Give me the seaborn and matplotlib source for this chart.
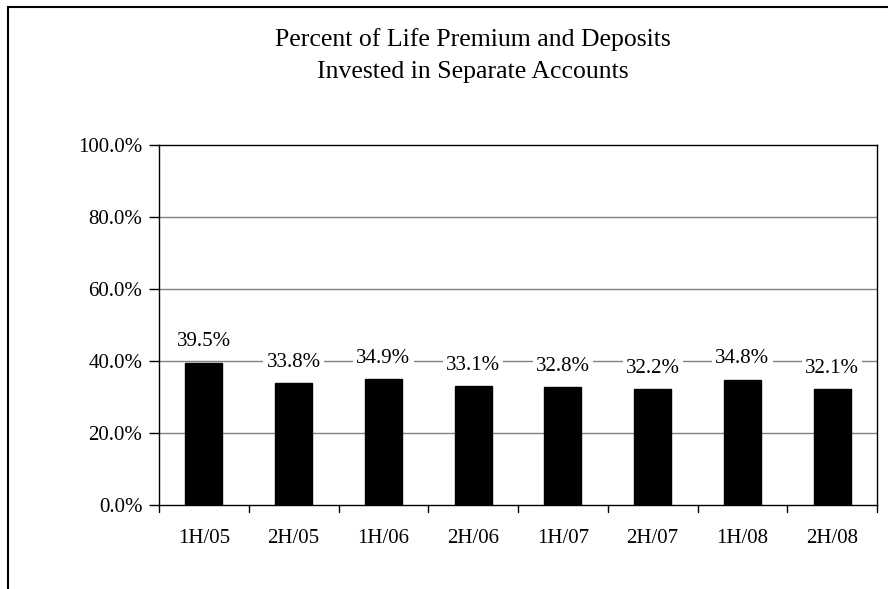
import matplotlib
matplotlib.use("Agg")
import matplotlib.pyplot as plt
import seaborn as sns
import pandas as pd
from matplotlib.patches import Rectangle

periods = ["1H/05", "2H/05", "1H/06", "2H/06", "1H/07", "2H/07", "1H/08", "2H/08"]
values = [39.5, 33.8, 34.9, 33.1, 32.8, 32.2, 34.8, 32.1]
yticks = [0, 20, 40, 60, 80, 100]

sns.set_theme(style="white")
plt.rcParams['font.family'] = ['Liberation Serif', 'DejaVu Serif']
plt.rcParams['text.color'] = 'black'
plt.rcParams['xtick.color'] = 'black'
plt.rcParams['ytick.color'] = 'black'
plt.rcParams['axes.labelcolor'] = 'black'

df = pd.DataFrame({"period": periods, "value": values})

fig = plt.figure(figsize=(8.88, 5.89), dpi=100)
ax = fig.add_axes([159/888, 1-505/589, (877-159)/888, (505-145)/589])

sns.barplot(data=df, x="period", y="value", color="black", width=0.41,
            saturation=1, ax=ax, zorder=3, edgecolor="black")

ax.set_ylim(0, 100)
ax.set_xlim(-0.5, len(periods) - 0.5)
ax.set_yticks(yticks)
ax.set_yticklabels([f"{v:.1f}%" for v in yticks], fontsize=15)
ax.set_xticks(range(len(periods)))
ax.set_xticklabels(periods, fontsize=15)
ax.set_xlabel("")
ax.set_ylabel("")

# grid lines
for v in yticks[1:-1]:
    ax.axhline(v, color="#808080", lw=1, zorder=1)

# x ticks at category boundaries
ax.tick_params(axis="x", length=0, pad=17)
for b in range(len(periods) + 1):
    ax.plot([b - 0.5, b - 0.5], [0, -2], color="black", lw=1, clip_on=False,
            transform=ax.transData)
ax.tick_params(axis="y", length=7, width=1, color="black", left=True, pad=5,
               direction="out")

for s in ax.spines.values():
    s.set_visible(True)
    s.set_color("black")
    s.set_linewidth(1)

for i, v in enumerate(values):
    ax.annotate(f"{v:.1f}%", (i, v), xytext=(0, 15), textcoords="offset points",
                ha="center", va="center", fontsize=15, zorder=5, color="black",
                bbox=dict(boxstyle="square,pad=0.15", fc="white", ec="none"))

fig.text(473/888, 1 - 40/589, "Percent of Life Premium and Deposits", ha="center",
         va="center", fontsize=18.5, color="black")
fig.text(473/888, 1 - 72/589, "Invested in Separate Accounts", ha="center",
         va="center", fontsize=18.5, color="black")

# outer frame
fig.patches.append(Rectangle((8/888, -0.1), 1.2, 1 - 7/589 + 0.1,
                             transform=fig.transFigure, fill=False,
                             ec="black", lw=1.5))

fig.savefig("out.png", dpi=100)
